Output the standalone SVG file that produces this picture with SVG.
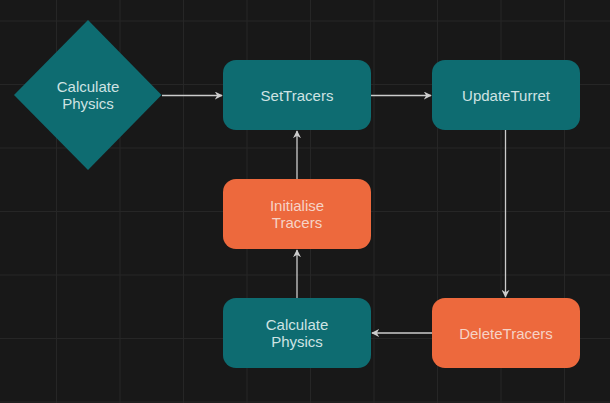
<svg xmlns="http://www.w3.org/2000/svg" width="610" height="403" viewBox="0 0 610 403">
<defs>
<style>
.grid line{stroke:#262626;stroke-width:1}
.teal{fill:#0e6c71}
.orange{fill:#ed693d}
.lbl{font-family:"Liberation Sans",Arial,sans-serif;font-size:15px;text-anchor:middle}
.lt{fill:#cfe3e3}
.lo{fill:#f6d3c6}
.conn{stroke:#cccccc;stroke-width:1.3;fill:none;marker-end:url(#arr)}
</style>
<marker id="arr" viewBox="0 0 10 10" refX="9" refY="5" markerWidth="8" markerHeight="8" markerUnits="userSpaceOnUse" orient="auto">
<path d="M0,0 L10,5 L0,10 L3,5 Z" fill="#cccccc"/>
</marker>
</defs>
<rect width="610" height="403" fill="#181818"/>
<g class="grid">
<line x1="56.5" y1="0" x2="56.5" y2="403"/>
<line x1="120" y1="0" x2="120" y2="403"/>
<line x1="183.5" y1="0" x2="183.5" y2="403"/>
<line x1="247" y1="0" x2="247" y2="403"/>
<line x1="310.5" y1="0" x2="310.5" y2="403"/>
<line x1="374" y1="0" x2="374" y2="403"/>
<line x1="437.5" y1="0" x2="437.5" y2="403"/>
<line x1="501" y1="0" x2="501" y2="403"/>
<line x1="564.5" y1="0" x2="564.5" y2="403"/>
<line x1="0" y1="21" x2="610" y2="21"/>
<line x1="0" y1="84.5" x2="610" y2="84.5"/>
<line x1="0" y1="148" x2="610" y2="148"/>
<line x1="0" y1="211.5" x2="610" y2="211.5"/>
<line x1="0" y1="275" x2="610" y2="275"/>
<line x1="0" y1="338.5" x2="610" y2="338.5"/>
<line x1="0" y1="402" x2="610" y2="402"/>
</g>
<g id="connectors">
<line class="conn" x1="162" y1="95.5" x2="222" y2="95.5"/>
<line class="conn" x1="371" y1="95.5" x2="431" y2="95.5"/>
<line class="conn" x1="505.5" y1="130" x2="505.5" y2="297"/>
<line class="conn" x1="432" y1="333" x2="372" y2="333"/>
<line class="conn" x1="297" y1="298" x2="297" y2="250"/>
<line class="conn" x1="297" y1="179" x2="297" y2="131"/>
</g>
<g id="node-diamond">
<polygon class="teal" points="88,20 161.5,95 88,170 14,95"/>
<text class="lbl lt" x="88" y="92">Calculate</text>
<text class="lbl lt" x="88" y="109">Physics</text>
</g>
<g id="node-settracers">
<rect class="teal" x="223" y="60" width="148" height="70" rx="13"/>
<text class="lbl lt" x="297" y="101">SetTracers</text>
</g>
<g id="node-updateturret">
<rect class="teal" x="432" y="60" width="148" height="70" rx="13"/>
<text class="lbl lt" x="506" y="101">UpdateTurret</text>
</g>
<g id="node-initialise">
<rect class="orange" x="223" y="179" width="148" height="70" rx="13"/>
<text class="lbl lo" x="297" y="211">Initialise</text>
<text class="lbl lo" x="297" y="228">Tracers</text>
</g>
<g id="node-calcphysics">
<rect class="teal" x="223" y="298" width="148" height="70" rx="13"/>
<text class="lbl lt" x="297" y="330">Calculate</text>
<text class="lbl lt" x="297" y="347">Physics</text>
</g>
<g id="node-deletetracers">
<rect class="orange" x="432" y="298" width="148" height="70" rx="13"/>
<text class="lbl lo" x="506" y="339">DeleteTracers</text>
</g>
</svg>
